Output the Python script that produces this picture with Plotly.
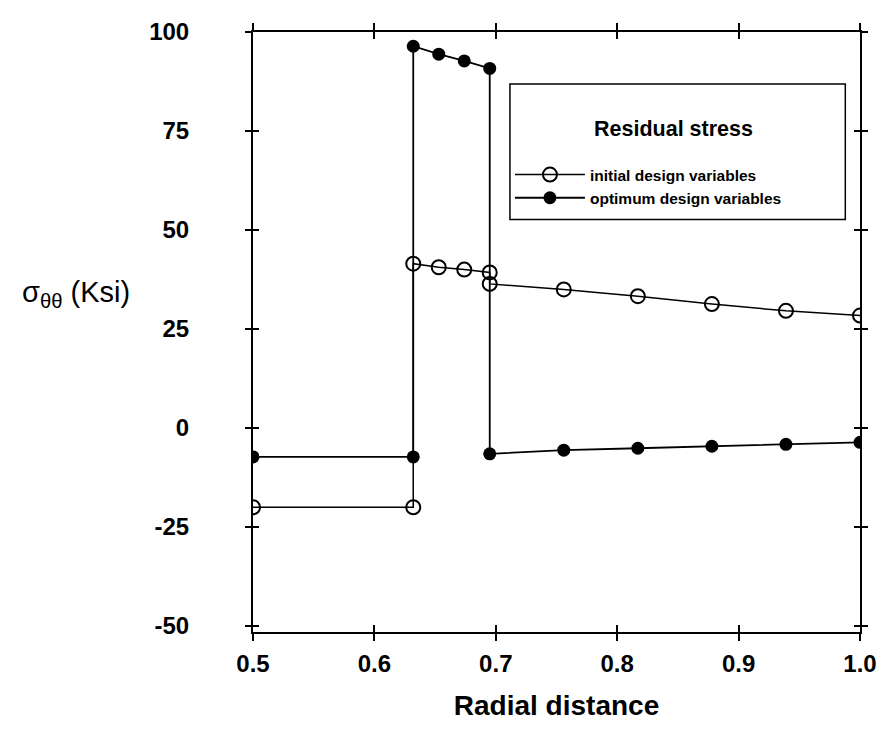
import plotly.graph_objects as go

# Data
x_initial = [0.5, 0.632, 0.632, 0.653, 0.674, 0.695, 0.695, 0.756, 0.817, 0.878, 0.939, 1.0]
y_initial = [-20.0, -20.0, 41.5, 40.6, 40.0, 39.3, 36.4, 35.0, 33.3, 31.3, 29.6, 28.4]

x_optimum = [0.5, 0.632, 0.632, 0.653, 0.674, 0.695, 0.695, 0.756, 0.817, 0.878, 0.939, 1.0]
y_optimum = [-7.3, -7.3, 96.4, 94.4, 92.7, 90.8, -6.5, -5.6, -5.1, -4.6, -4.1, -3.6]

x_ticks = [0.5, 0.6, 0.7, 0.8, 0.9, 1.0]
x_ticktext = ["0.5", "0.6", "0.7", "0.8", "0.9", "1.0"]
y_ticks = [-50, -25, 0, 25, 50, 75, 100]
y_ticktext = ["-50", "-25", "0", "25", "50", "75", "100"]

x_range = [0.5, 1.0]
y_range = [-51.5, 100]

FONT = "Liberation Sans, Arial, Helvetica, sans-serif"

fig = go.Figure()

fig.add_trace(go.Scatter(
    x=x_initial, y=y_initial, mode="lines+markers",
    name="initial design variables",
    line=dict(color="black", width=1.5),
    marker=dict(symbol="circle-open", size=14, color="black", line=dict(width=2, color="black")),
))
fig.add_trace(go.Scatter(
    x=x_optimum, y=y_optimum, mode="lines+markers",
    name="optimum design variables",
    line=dict(color="black", width=1.8),
    marker=dict(symbol="circle", size=13, color="black"),
))
# empty trace to anchor the inner-tick overlay axes
fig.add_trace(go.Scatter(x=[], y=[], xaxis="x2", yaxis="y2", showlegend=False, hoverinfo="skip"))

tickfont = dict(family=FONT, size=24, color="black", weight="bold")

# page body adds an 8px margin, so the figure is offset by 8px in the window
fig.update_layout(
    width=879, height=718,
    margin=dict(l=245, r=15, t=10, b=84),
    paper_bgcolor="white", plot_bgcolor="white",
    font=dict(family=FONT, color="black"),
    xaxis=dict(
        range=x_range, tickvals=x_ticks, ticktext=x_ticktext,
        showline=True, linewidth=2, linecolor="black", mirror="ticks",
        ticks="outside", ticklen=7, tickwidth=1.5, tickcolor="black",
        showgrid=False, zeroline=False, tickfont=tickfont, ticklabelstandoff=2,
        ticklabeloverflow="allow",
        title=dict(text="Radial distance", font=dict(family=FONT, size=28, color="black", weight="bold"), standoff=20),
    ),
    yaxis=dict(
        range=y_range, tickvals=y_ticks, ticktext=y_ticktext,
        showline=True, linewidth=2, linecolor="black", mirror="ticks",
        ticks="outside", ticklen=6, tickwidth=2, tickcolor="black",
        showgrid=False, zeroline=False, tickfont=tickfont, ticklabelstandoff=51,
        ticklabeloverflow="allow",
    ),
    xaxis2=dict(
        range=x_range, tickvals=x_ticks, overlaying="x", anchor="y2", side="bottom",
        ticks="inside", ticklen=7, tickwidth=1.5, tickcolor="black", mirror="ticks",
        showline=False, showticklabels=False, showgrid=False, zeroline=False,
    ),
    yaxis2=dict(
        range=y_range, tickvals=y_ticks, overlaying="y", anchor="x2", side="left",
        ticks="inside", ticklen=6, tickwidth=2, tickcolor="black", mirror="ticks",
        showline=False, showticklabels=False, showgrid=False, zeroline=False,
    ),
    showlegend=True,
    legend=dict(
        x=0.4233, y=0.790, xanchor="left", yanchor="top",
        bgcolor="rgba(0,0,0,0)", borderwidth=0,
        font=dict(family=FONT, size=15.5, color="black", weight="bold"),
        itemwidth=70, tracegroupgap=0,
    ),
    shapes=[dict(
        type="rect", xref="paper", yref="paper",
        x0=0.4233, x1=0.9758, y0=0.6875, y1=0.9135,
        line=dict(color="black", width=1.5), fillcolor="white", layer="below",
    )],
    annotations=[
        dict(text="Residual stress", xref="paper", yref="paper", x=0.692, y=0.839,
             xanchor="center", yanchor="middle", showarrow=False,
             font=dict(family=FONT, size=21.5, color="black", weight="bold")),
        dict(text="σ<sub>θθ</sub> (Ksi)", xref="paper", yref="paper", x=-0.2924, y=0.564,
             xanchor="center", yanchor="middle", showarrow=False,
             font=dict(family=FONT, size=29, color="black")),
    ],
)

fig.write_html("out.html")
